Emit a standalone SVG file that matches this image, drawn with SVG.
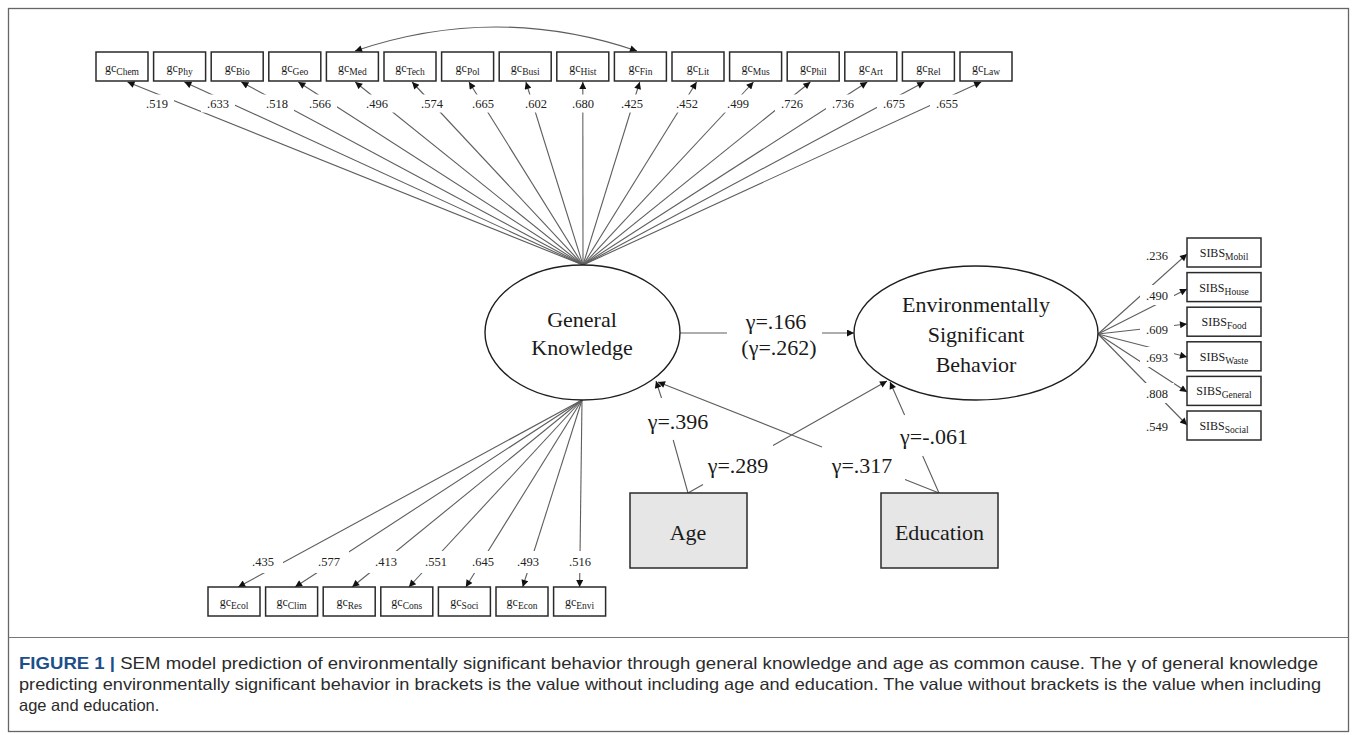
<svg xmlns="http://www.w3.org/2000/svg" width="1357" height="735" viewBox="0 0 1357 735">
<style>
.box{fill:#fff;stroke:#2a2a2a;stroke-width:1.5}
.gbox{fill:#e6e6e6;stroke:#2a2a2a;stroke-width:1.5}
.lat{fill:#fff;stroke:#1e1e1e;stroke-width:1.4}
.ln{stroke:#5e5e5e;stroke-width:1.1;fill:none;marker-end:url(#ah)}
.serif{font-family:"Liberation Serif","Times New Roman",serif;fill:#1a1a1a}
.obs{font-size:12px;text-anchor:middle}
.sub{font-size:9.5px}
.big{font-size:22px;text-anchor:middle}
.lbl{font-family:"Liberation Serif","Times New Roman",serif;font-size:12.5px;text-anchor:middle;fill:#222}
.bg{fill:#fff}
.cap{font-family:"Liberation Sans",Arial,sans-serif;font-size:16.5px;fill:#2b2b2b}
</style>
<defs>
<marker id="ah" viewBox="0 0 10 10" refX="10" refY="5" markerWidth="9" markerHeight="7" markerUnits="userSpaceOnUse" orient="auto-start-reverse">
<path d="M0,0 L10,5 L0,10 z" fill="#111"/>
</marker>
</defs>
<rect x="8.5" y="8.5" width="1340" height="723" fill="#fff" stroke="#666" stroke-width="1.3"/>
<line x1="8.5" y1="637.5" x2="1348.5" y2="637.5" stroke="#777" stroke-width="1"/>

<g id="connectors">
<line class="ln" x1="583" y1="265" x2="127.5" y2="82"/>
<line class="ln" x1="583" y1="265" x2="184.4" y2="82"/>
<line class="ln" x1="583" y1="265" x2="241.3" y2="82"/>
<line class="ln" x1="583" y1="265" x2="298.3" y2="82"/>
<line class="ln" x1="583" y1="265" x2="355.2" y2="82"/>
<line class="ln" x1="583" y1="265" x2="412.1" y2="82"/>
<line class="ln" x1="583" y1="265" x2="469" y2="82"/>
<line class="ln" x1="583" y1="265" x2="525.9" y2="82"/>
<line class="ln" x1="583" y1="265" x2="582.8" y2="82"/>
<line class="ln" x1="583" y1="265" x2="639.7" y2="82"/>
<line class="ln" x1="583" y1="265" x2="696.6" y2="82"/>
<line class="ln" x1="583" y1="265" x2="753.5" y2="82"/>
<line class="ln" x1="583" y1="265" x2="810.4" y2="82"/>
<line class="ln" x1="583" y1="265" x2="867.3" y2="82"/>
<line class="ln" x1="583" y1="265" x2="924.3" y2="82"/>
<line class="ln" x1="583" y1="265" x2="981.2" y2="82"/>
<line class="ln" x1="582" y1="400" x2="238.2" y2="587"/>
<line class="ln" x1="582" y1="400" x2="295.1" y2="587"/>
<line class="ln" x1="582" y1="400" x2="352.2" y2="587"/>
<line class="ln" x1="582" y1="400" x2="408.9" y2="587"/>
<line class="ln" x1="582" y1="400" x2="465.8" y2="587"/>
<line class="ln" x1="582" y1="400" x2="522.7" y2="587"/>
<line class="ln" x1="582" y1="400" x2="579.6" y2="587"/>
<line class="ln" x1="1098" y1="334" x2="1187" y2="254"/>
<line class="ln" x1="1098" y1="334" x2="1187" y2="289"/>
<line class="ln" x1="1098" y1="334" x2="1187" y2="324"/>
<line class="ln" x1="1098" y1="334" x2="1187" y2="357"/>
<line class="ln" x1="1098" y1="334" x2="1187" y2="392"/>
<line class="ln" x1="1098" y1="334" x2="1187" y2="425"/>
<path class="ln" d="M355,51 Q496,3 637,51" style="marker-start:url(#ah)"/>
<path class="ln" d="M680,333 L727,333 M822,333 L854,333"/>
<path class="ln" d="M688,493 L673.2,440 M661.5,398 L656,381"/>
<path class="ln" d="M688,493 L703,484.6 M773,445.6 L887,381"/>
<path class="ln" d="M939,493 L905,479.6 M822,446.9 L658,382"/>
<path class="ln" d="M939,493 L922.7,456 M904.6,415 L890,382"/>
</g>

<g id="gc-chem"><rect class="box" x="96" y="52" width="52" height="29"/><text class="serif obs" x="122" y="72">gc<tspan class="sub" dy="3">Chem</tspan></text></g>
<g id="gc-phy"><rect class="box" x="153.6" y="52" width="52" height="29"/><text class="serif obs" x="179.6" y="72">gc<tspan class="sub" dy="3">Phy</tspan></text></g>
<g id="gc-bio"><rect class="box" x="211.2" y="52" width="52" height="29"/><text class="serif obs" x="237.2" y="72">gc<tspan class="sub" dy="3">Bio</tspan></text></g>
<g id="gc-geo"><rect class="box" x="268.8" y="52" width="52" height="29"/><text class="serif obs" x="294.8" y="72">gc<tspan class="sub" dy="3">Geo</tspan></text></g>
<g id="gc-med"><rect class="box" x="326.4" y="52" width="52" height="29"/><text class="serif obs" x="352.4" y="72">gc<tspan class="sub" dy="3">Med</tspan></text></g>
<g id="gc-tech"><rect class="box" x="384" y="52" width="52" height="29"/><text class="serif obs" x="410" y="72">gc<tspan class="sub" dy="3">Tech</tspan></text></g>
<g id="gc-pol"><rect class="box" x="441.6" y="52" width="52" height="29"/><text class="serif obs" x="467.6" y="72">gc<tspan class="sub" dy="3">Pol</tspan></text></g>
<g id="gc-busi"><rect class="box" x="499.2" y="52" width="52" height="29"/><text class="serif obs" x="525.2" y="72">gc<tspan class="sub" dy="3">Busi</tspan></text></g>
<g id="gc-hist"><rect class="box" x="556.8" y="52" width="52" height="29"/><text class="serif obs" x="582.8" y="72">gc<tspan class="sub" dy="3">Hist</tspan></text></g>
<g id="gc-fin"><rect class="box" x="614.4" y="52" width="52" height="29"/><text class="serif obs" x="640.4" y="72">gc<tspan class="sub" dy="3">Fin</tspan></text></g>
<g id="gc-lit"><rect class="box" x="672" y="52" width="52" height="29"/><text class="serif obs" x="698" y="72">gc<tspan class="sub" dy="3">Lit</tspan></text></g>
<g id="gc-mus"><rect class="box" x="729.6" y="52" width="52" height="29"/><text class="serif obs" x="755.6" y="72">gc<tspan class="sub" dy="3">Mus</tspan></text></g>
<g id="gc-phil"><rect class="box" x="787.2" y="52" width="52" height="29"/><text class="serif obs" x="813.2" y="72">gc<tspan class="sub" dy="3">Phil</tspan></text></g>
<g id="gc-art"><rect class="box" x="844.8" y="52" width="52" height="29"/><text class="serif obs" x="870.8" y="72">gc<tspan class="sub" dy="3">Art</tspan></text></g>
<g id="gc-rel"><rect class="box" x="902.4" y="52" width="52" height="29"/><text class="serif obs" x="928.4" y="72">gc<tspan class="sub" dy="3">Rel</tspan></text></g>
<g id="gc-law"><rect class="box" x="960" y="52" width="52" height="29"/><text class="serif obs" x="986" y="72">gc<tspan class="sub" dy="3">Law</tspan></text></g>

<g id="gc-ecol"><rect class="box" x="208" y="587" width="52" height="29"/><text class="serif obs" x="234" y="606">gc<tspan class="sub" dy="3">Ecol</tspan></text></g>
<g id="gc-clim"><rect class="box" x="265.6" y="587" width="52" height="29"/><text class="serif obs" x="291.6" y="606">gc<tspan class="sub" dy="3">Clim</tspan></text></g>
<g id="gc-res"><rect class="box" x="323.2" y="587" width="52" height="29"/><text class="serif obs" x="349.2" y="606">gc<tspan class="sub" dy="3">Res</tspan></text></g>
<g id="gc-cons"><rect class="box" x="380.8" y="587" width="52" height="29"/><text class="serif obs" x="406.8" y="606">gc<tspan class="sub" dy="3">Cons</tspan></text></g>
<g id="gc-soci"><rect class="box" x="438.4" y="587" width="52" height="29"/><text class="serif obs" x="464.4" y="606">gc<tspan class="sub" dy="3">Soci</tspan></text></g>
<g id="gc-econ"><rect class="box" x="496" y="587" width="52" height="29"/><text class="serif obs" x="522" y="606">gc<tspan class="sub" dy="3">Econ</tspan></text></g>
<g id="gc-envi"><rect class="box" x="553.6" y="587" width="52" height="29"/><text class="serif obs" x="579.6" y="606">gc<tspan class="sub" dy="3">Envi</tspan></text></g>

<g id="sibs-mobil"><rect class="box" x="1187" y="238" width="74" height="29"/><text class="serif obs" x="1224" y="257">SIBS<tspan class="sub" font-size="8.5" dy="3">Mobil</tspan></text></g>
<g id="sibs-house"><rect class="box" x="1187" y="272.6" width="74" height="29"/><text class="serif obs" x="1224" y="291.5">SIBS<tspan class="sub" font-size="8.5" dy="3">House</tspan></text></g>
<g id="sibs-food"><rect class="box" x="1187" y="307.2" width="74" height="29"/><text class="serif obs" x="1224" y="326">SIBS<tspan class="sub" font-size="8.5" dy="3">Food</tspan></text></g>
<g id="sibs-waste"><rect class="box" x="1187" y="341.8" width="74" height="29"/><text class="serif obs" x="1224" y="360.5">SIBS<tspan class="sub" font-size="8.5" dy="3">Waste</tspan></text></g>
<g id="sibs-general"><rect class="box" x="1187" y="376.4" width="74" height="29"/><text class="serif obs" x="1224" y="395">SIBS<tspan class="sub" font-size="8.5" dy="3">General</tspan></text></g>
<g id="sibs-social"><rect class="box" x="1187" y="411" width="74" height="29"/><text class="serif obs" x="1224" y="430">SIBS<tspan class="sub" font-size="8.5" dy="3">Social</tspan></text></g>

<g id="general-knowledge"><ellipse class="lat" cx="582.5" cy="332.5" rx="97.5" ry="67.5"/><text class="serif big" x="582" y="327">General</text><text class="serif big" x="582" y="355">Knowledge</text></g>
<g id="env-behavior"><ellipse class="lat" cx="976" cy="333" rx="122" ry="67"/><text class="serif big" x="976" y="312">Environmentally</text><text class="serif big" x="976" y="342">Significant</text><text class="serif big" x="976" y="372">Behavior</text></g>
<g id="age"><rect class="gbox" x="630" y="493" width="117" height="75"/><text class="serif big" x="688" y="540">Age</text></g>
<g id="education"><rect class="gbox" x="881" y="493" width="117" height="75"/><text class="serif big" x="939.5" y="540">Education</text></g>

<g id="labels">
<g class="bg">
<rect x="140" y="94.5" width="34" height="18"/><rect x="201" y="94.5" width="34" height="18"/><rect x="260" y="94.5" width="34" height="18"/><rect x="303" y="94.5" width="34" height="18"/>
<rect x="360" y="94.5" width="34" height="18"/><rect x="415" y="94.5" width="34" height="18"/><rect x="466" y="94.5" width="34" height="18"/><rect x="519" y="94.5" width="34" height="18"/>
<rect x="566" y="94.5" width="34" height="18"/><rect x="615" y="94.5" width="34" height="18"/><rect x="670" y="94.5" width="34" height="18"/><rect x="721" y="94.5" width="34" height="18"/>
<rect x="775" y="94.5" width="34" height="18"/><rect x="826" y="94.5" width="34" height="18"/><rect x="877" y="94.5" width="34" height="18"/><rect x="930" y="94.5" width="34" height="18"/>
<rect x="243" y="551" width="40" height="22"/><rect x="309" y="551" width="40" height="22"/><rect x="366" y="551" width="40" height="22"/><rect x="416" y="551" width="40" height="22"/>
<rect x="463" y="551" width="40" height="22"/><rect x="508" y="551" width="40" height="22"/><rect x="560" y="551" width="40" height="22"/>
<rect x="1140" y="245" width="34" height="20"/><rect x="1140" y="285" width="34" height="20"/><rect x="1140" y="319" width="34" height="20"/><rect x="1140" y="347" width="34" height="20"/><rect x="1140" y="383" width="34" height="20"/><rect x="1140" y="416" width="34" height="20"/>
</g>
<text class="lbl" x="157" y="108">.519</text><text class="lbl" x="218" y="108">.633</text><text class="lbl" x="277" y="108">.518</text><text class="lbl" x="320" y="108">.566</text>
<text class="lbl" x="377" y="108">.496</text><text class="lbl" x="432" y="108">.574</text><text class="lbl" x="483" y="108">.665</text><text class="lbl" x="536" y="108">.602</text>
<text class="lbl" x="583" y="108">.680</text><text class="lbl" x="632" y="108">.425</text><text class="lbl" x="687" y="108">.452</text><text class="lbl" x="738" y="108">.499</text>
<text class="lbl" x="792" y="108">.726</text><text class="lbl" x="843" y="108">.736</text><text class="lbl" x="894" y="108">.675</text><text class="lbl" x="947" y="108">.655</text>
<text class="lbl" x="263" y="566">.435</text><text class="lbl" x="329" y="566">.577</text><text class="lbl" x="386" y="566">.413</text><text class="lbl" x="436" y="566">.551</text>
<text class="lbl" x="483" y="566">.645</text><text class="lbl" x="528" y="566">.493</text><text class="lbl" x="580" y="566">.516</text>
<text class="lbl" x="1157" y="259.5" font-size="13">.236</text><text class="lbl" x="1157" y="299.5" font-size="13">.490</text><text class="lbl" x="1157" y="333.5" font-size="13">.609</text>
<text class="lbl" x="1157" y="361.5" font-size="13">.693</text><text class="lbl" x="1157" y="397.5" font-size="13">.808</text><text class="lbl" x="1157" y="430.5" font-size="13">.549</text>
<text class="serif big" x="776" y="329">γ=.166</text>
<text class="serif big" x="779" y="355">(γ=.262)</text>
<text class="serif big" x="678" y="429">γ=.396</text>
<text class="serif big" x="738" y="473">γ=.289</text>
<text class="serif big" x="862" y="473">γ=.317</text>
<text class="serif big" x="934" y="444">γ=-.061</text>
</g>

<g id="caption">
<text class="cap" x="19" y="669" textLength="1299" lengthAdjust="spacingAndGlyphs"><tspan font-weight="bold" fill="#1c4f8a">FIGURE 1 |</tspan> SEM model prediction of environmentally significant behavior through general knowledge and age as common cause. The γ of general knowledge</text>
<text class="cap" x="19" y="690" textLength="1302" lengthAdjust="spacingAndGlyphs">predicting environmentally significant behavior in brackets is the value without including age and education. The value without brackets is the value when including</text>
<text class="cap" x="19" y="711">age and education.</text>
</g>
</svg>
